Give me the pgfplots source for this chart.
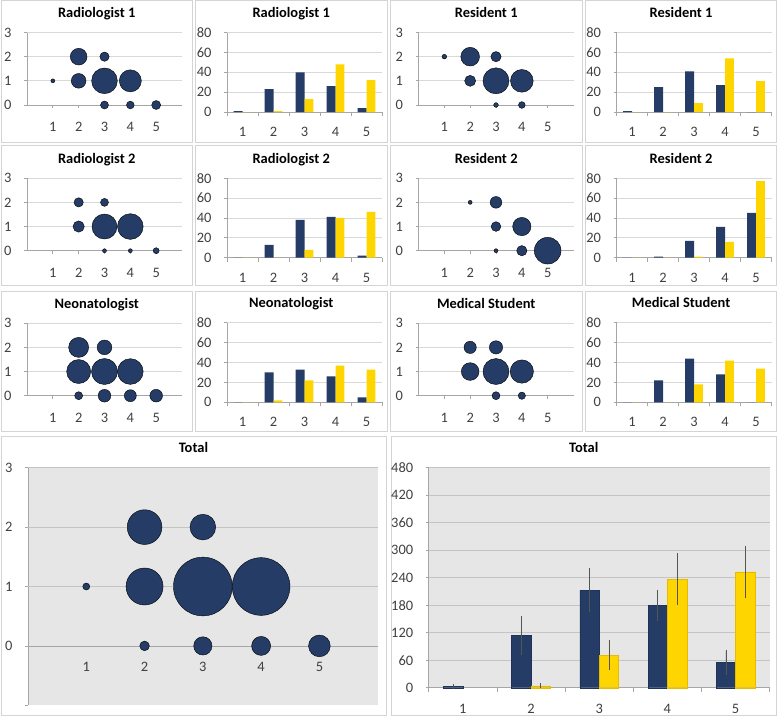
\documentclass[border=0pt]{standalone}
\usepackage{pgfplots}
\pgfplotsset{compat=1.18}
\usepackage{fontspec}
\setmainfont{Carlito}
\definecolor{navy}{HTML}{243C66}
\definecolor{gold}{HTML}{FFD500}
\definecolor{goldedge}{HTML}{E6BC00}
\definecolor{gridc}{HTML}{D9D9D9}
\definecolor{gridd}{HTML}{C4C4C4}
\definecolor{axc}{HTML}{A6A6A6}
\definecolor{boxc}{HTML}{D4D4D4}
\definecolor{plotbg}{HTML}{E6E6E6}
\definecolor{tickc}{HTML}{404040}
\definecolor{errc}{HTML}{555555}
\pgfplotsset{
  common/.style={scale only axis, clip=false, anchor=south west,
    /pgf/number format/assume math mode=true,
    tick label style={font=\fontsize{14.5}{15}\selectfont, color=tickc},
    title style={font=\bfseries\fontsize{14.5}{15}\selectfont, anchor=base, at={(0.5,1)}, yshift=9bp},
    axis line style={-, draw=axc, line width=0.8bp},
    grid style={draw=gridc, line width=0.8bp},
    tick style={draw=axc, line width=0.8bp},
    tick align=outside, major tick length=3bp,
    xtick pos=left, ytick pos=left,
    yticklabel style={anchor=east, xshift=-9bp},
    xticklabel style={anchor=base},
  },
  bubblesm/.style={common, width=155bp, height=72.5bp, xmin=0, xmax=6, ymin=0, ymax=3,
    xtick={1,...,5}, ytick={0,...,3}, axis x line*=bottom, axis y line*=left,
    ymajorgrids, xticklabel style={yshift=-23.5bp}},
  barsm/.style={common, width=155bp, height=79.5bp, xmin=0.5, xmax=5.5, ymin=0, ymax=80,
    xtick={1,...,5}, ytick={0,20,...,80}, axis x line*=bottom, axis y line*=left,
    ymajorgrids, ybar=0pt, bar width=8.8bp,
    major x tick style={draw=none}, minor xtick={0.5,1.5,...,5.5}, minor tick length=4bp,
    minor x tick style={draw=axc, line width=0.8bp},
    xticklabel style={yshift=-21.5bp}},
  bubble/.style={scatter, only marks, mark=*,
    scatter/use mapped color={draw=none, fill=navy},
    visualization depends on={\thisrow{d} \as \dd},
    scatter/@pre marker code/.append style={/tikz/mark size=0.502*\dd}},
  bluebar/.style={fill=navy, draw=none},
  yellowbar/.style={fill=gold, draw=none},
}
\begin{document}
\begin{tikzpicture}
\useasboundingbox (0,0) rectangle (778bp,-718bp);
% panel frames
\begin{scope}[draw=boxc, line width=1bp]
\draw (1bp,-0.8bp) rectangle (192.3bp,-142.7bp);
\draw (195.3bp,-0.8bp) rectangle (387bp,-142.7bp);
\draw (390bp,-0.8bp) rectangle (582.3bp,-142.7bp);
\draw (585.7bp,-0.8bp) rectangle (776.5bp,-142.7bp);
\draw (1bp,-145.7bp) rectangle (192.3bp,-285.3bp);
\draw (195.3bp,-145.7bp) rectangle (387bp,-285.3bp);
\draw (390bp,-145.7bp) rectangle (582.3bp,-285.3bp);
\draw (585.7bp,-145.7bp) rectangle (776.5bp,-285.3bp);
\draw (1bp,-291bp) rectangle (192.3bp,-431bp);
\draw (195.3bp,-291bp) rectangle (387bp,-431bp);
\draw (390bp,-291bp) rectangle (582.3bp,-431bp);
\draw (585.7bp,-291bp) rectangle (776.5bp,-431bp);
\draw (1bp,-436bp) rectangle (386bp,-715bp);
\draw (391bp,-436bp) rectangle (776.5bp,-715bp);
\end{scope}

% ---------- Row 1 ----------
\begin{axis}[bubblesm, at={(27bp,-105bp)}, title={Radiologist 1}, title style={xshift=-7.8bp}]
\addplot[bubble] table {
x y d
1 1 4
2 2 16.7
3 2 9.3
2 1 14.7
3 1 25.7
4 1 22
3 0 8
4 0 7.7
5 0 9
};
\end{axis}
\begin{axis}[barsm, at={(227bp,-112bp)}, title={Radiologist 1}, title style={xshift=-13.3bp}]
\addplot[bluebar] coordinates {(1,1) (2,23) (3,40) (4,26) (5,4)};
\addplot[yellowbar] coordinates {(1,0) (2,1) (3,13) (4,48) (5,32)};
\end{axis}
\begin{axis}[bubblesm, at={(418.5bp,-105bp)}, title={Resident 1}, title style={xshift=-9.8bp}]
\addplot[bubble] table {
x y d
1 2 4.7
2 2 18.7
3 2 10.3
2 1 11
3 1 26
4 1 22.7
3 0 4.7
4 0 6.7
};
\end{axis}
\begin{axis}[barsm, at={(616.5bp,-112bp)}, title={Resident 1}, title style={xshift=-12.9bp}]
\addplot[bluebar] coordinates {(1,1) (2,25) (3,41) (4,27) (5,0)};
\addplot[yellowbar] coordinates {(1,0) (2,0) (3,9) (4,54) (5,31)};
\end{axis}

% ---------- Row 2 ----------
\begin{axis}[bubblesm, at={(27bp,-250.7bp)}, title={Radiologist 2}, title style={xshift=-7.8bp}]
\addplot[bubble] table {
x y d
2 2 9.3
3 2 8
2 1 11.3
3 1 25
4 1 25.7
3 0 4
4 0 4
5 0 6
};
\end{axis}
\begin{axis}[barsm, at={(227bp,-257.7bp)}, title={Radiologist 2}, title style={xshift=-13.3bp}]
\addplot[bluebar] coordinates {(1,0) (2,13) (3,38) (4,41) (5,2)};
\addplot[yellowbar] coordinates {(1,0) (2,0) (3,8) (4,40) (5,46)};
\end{axis}
\begin{axis}[bubblesm, at={(418.5bp,-250.7bp)}, title={Resident 2}, title style={xshift=-9.8bp}]
\addplot[bubble] table {
x y d
2 2 4
3 2 11.7
3 1 9.7
4 1 18.3
3 0 4
4 0 10.3
5 0 26.7
};
\end{axis}
\begin{axis}[barsm, at={(616.5bp,-257.7bp)}, title={Resident 2}, title style={xshift=-12.9bp}]
\addplot[bluebar] coordinates {(1,0) (2,1) (3,17) (4,31) (5,45)};
\addplot[yellowbar] coordinates {(1,0) (2,0) (3,1) (4,16) (5,77)};
\end{axis}

% ---------- Row 3 ----------
\begin{axis}[bubblesm, at={(27bp,-395.7bp)}, title={Neonatologist}, title style={xshift=-7.8bp}]
\addplot[bubble] table {
x y d
2 2 20
3 2 14.7
2 1 24
3 1 26
4 1 25.7
2 0 8
3 0 12.7
4 0 12
5 0 12.7
};
\end{axis}
\begin{axis}[barsm, at={(227bp,-402.3bp)}, title={Neonatologist}, title style={xshift=-13.3bp}]
\addplot[bluebar] coordinates {(1,0) (2,30) (3,33) (4,26) (5,5)};
\addplot[yellowbar] coordinates {(1,0) (2,2) (3,22) (4,37) (5,33)};
\end{axis}
\begin{axis}[bubblesm, at={(418.5bp,-395.7bp)}, title={Medical Student}, title style={xshift=-9.8bp}]
\addplot[bubble] table {
x y d
2 2 12.3
3 2 13.3
2 1 17.7
3 1 26
4 1 23.3
3 0 8
4 0 7.3
};
\end{axis}
\begin{axis}[barsm, at={(616.5bp,-402.3bp)}, title={Medical Student}, title style={xshift=-12.9bp}]
\addplot[bluebar] coordinates {(1,0) (2,22) (3,44) (4,28) (5,0)};
\addplot[yellowbar] coordinates {(1,0) (2,0) (3,18) (4,42) (5,34)};
\end{axis}

% ---------- Bottom: Total bubble ----------
\begin{axis}[common, at={(28bp,-705.3bp)}, width=349.7bp, height=237.6bp,
  xmin=0, xmax=6, ymin=-1, ymax=3,
  axis background/.style={fill=plotbg},
  axis x line*=middle, axis y line*=left,
  hide obscured x ticks=false, hide obscured y ticks=false,
  xtick={1,...,5}, ytick={-1,...,3}, yticklabels={,0,1,2,3},
  major x tick style={draw=none},
  extra y ticks={1,2,3}, extra y tick labels={},
  extra y tick style={ymajorgrids=true, major tick length=0pt},
  grid style={draw=gridd},
  xticklabel style={yshift=-22.5bp},
  title={Total}, title style={xshift=-9.4bp}]
\addplot[bubble] table {
x y d
1 1 7
2 2 34.7
3 2 25.7
2 1 37
3 1 58.7
4 1 57.7
2 0 9.7
3 0 18.3
4 0 19
5 0 21.7
};
\end{axis}

% ---------- Bottom: Total bars ----------
\begin{axis}[common, at={(428.7bp,-687.7bp)}, width=341bp, height=220bp,
  xmin=0.5, xmax=5.5, ymin=0, ymax=480,
  axis background/.style={fill=plotbg},
  axis x line*=bottom, axis y line*=left,
  xtick={1,...,5}, ytick={0,60,...,480}, ymajorgrids,
  grid style={draw=gridd},
  ybar=0pt, bar width=19.4bp,
  major x tick style={draw=none}, minor xtick={0.5,1.5,...,5.5}, minor tick length=4bp,
  minor x tick style={draw=axc, line width=0.8bp},
  xticklabel style={yshift=-23bp},
  title={Total}, title style={xshift=-15.4bp}]
\addplot[fill=navy, draw=navy!85!black,
  error bars/.cd, y dir=both, y explicit,
  error bar style={draw=errc, line width=0.6bp},
  error mark options={draw=errc, line width=0.6bp, mark size=1.5bp}]
  coordinates {(1,3) +- (0,2) (2,114) +- (0,40) (3,213) +- (0,44) (4,179) +- (0,30) (5,56) +- (0,24)};
\addplot[fill=gold, draw=goldedge,
  error bars/.cd, y dir=both, y explicit,
  error bar style={draw=errc, line width=0.6bp},
  error mark options={draw=errc, line width=0.6bp, mark size=1.5bp}]
  coordinates {(2,4) +- (0,2) (3,71) +- (0,29) (4,237) +- (0,53) (5,253) +- (0,53)};
\end{axis}
\end{tikzpicture}
\end{document}
